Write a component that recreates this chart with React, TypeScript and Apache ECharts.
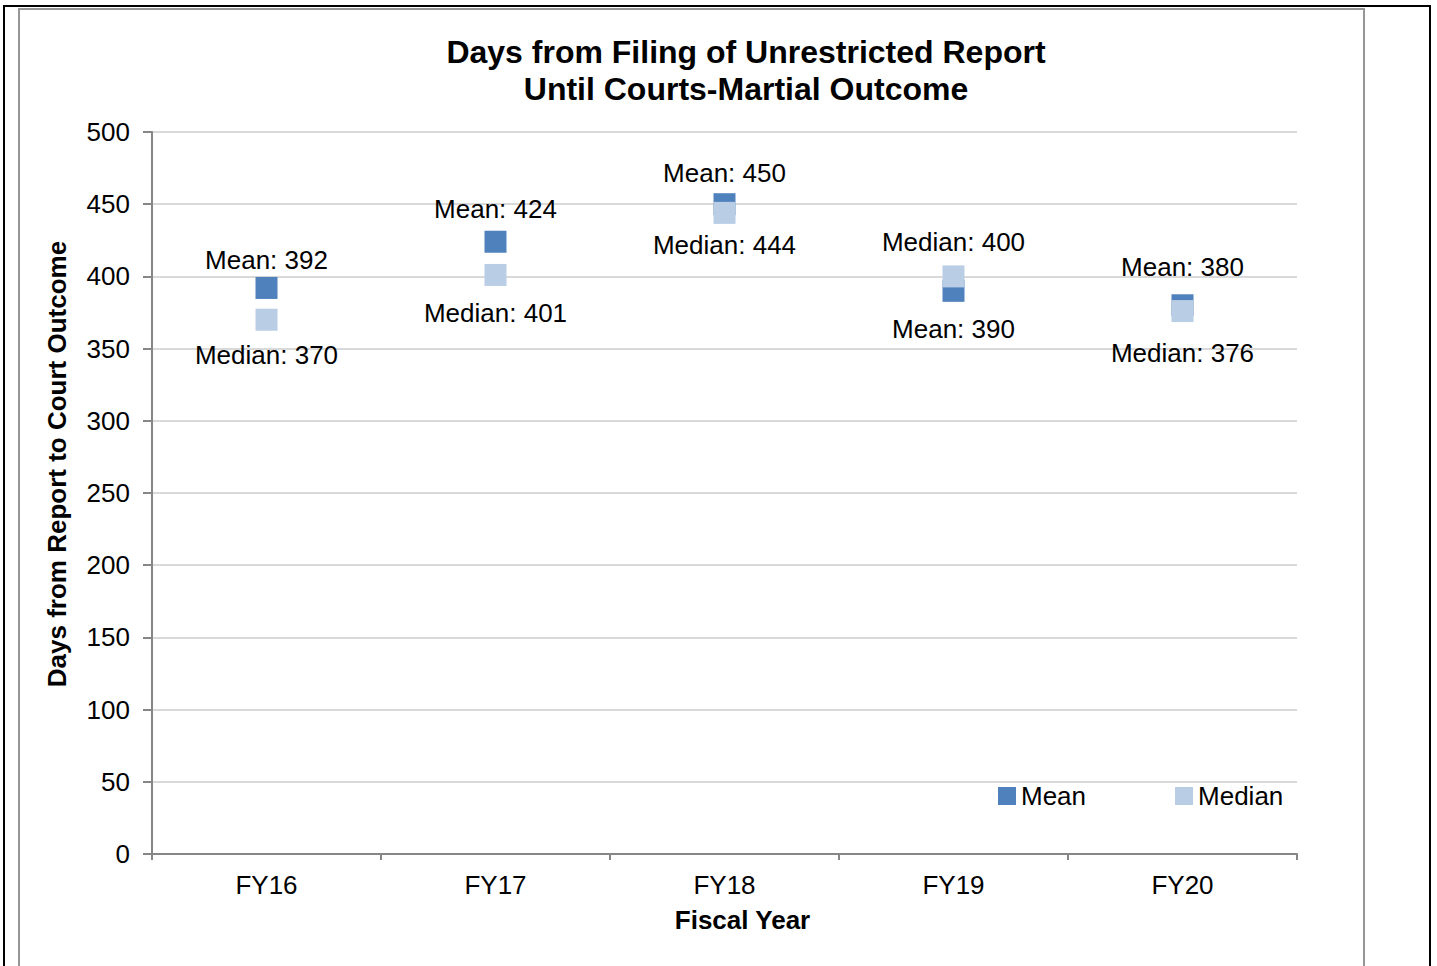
import React, { useEffect, useRef } from "react";
import * as echarts from "echarts";

const categories = ["FY16", "FY17", "FY18", "FY19", "FY20"];
const meanValues = [392, 424, 450, 390, 380];
const medianValues = [370, 401, 444, 400, 376];
const titleLines = ["Days from Filing of Unrestricted Report", "Until Courts-Martial Outcome"];
const yAxisTitle = "Days from Report to Court Outcome";
const xAxisTitle = "Fiscal Year";

// label layout (style, not data)
const meanLabelLayout = [
  { position: "top", distance: 4 },
  { position: "top", distance: 9 },
  { position: "top", distance: 7 },
  { position: "bottom", distance: 14 },
  { position: "top", distance: 14 },
];
const medianLabelLayout = [
  { position: "bottom", distance: 11 },
  { position: "bottom", distance: 14 },
  { position: "bottom", distance: 8 },
  { position: "top", distance: 10 },
  { position: "bottom", distance: 18 },
];

const FONT = "'Liberation Sans', Arial, sans-serif";
const MEAN_COLOR = "#4F81BD";
const MEDIAN_COLOR = "#B9CDE5";

export default function App() {
  const ref = useRef<HTMLDivElement>(null);
  useEffect(() => {
    if (!ref.current) return;
    const chart = echarts.init(ref.current, null, { renderer: "svg" });
    const mkData = (vals: number[], layout: { position: string; distance: number }[], prefix: string) =>
      vals.map((v, i) => ({
        value: v,
        label: {
          show: true,
          position: layout[i].position,
          distance: layout[i].distance,
          formatter: `${prefix}: ${v}`,
          fontSize: 26,
          fontFamily: FONT,
          color: "#000",
        },
      }));
    chart.setOption({
      animation: false,
      backgroundColor: "#fff",
      textStyle: { fontFamily: FONT },
      graphic: [
        {
          type: "rect",
          shape: { x: 4, y: 6, width: 1426, height: 1000 },
          style: { fill: "none", stroke: "#000", lineWidth: 2 },
          silent: true,
          z: 100,
        },
        {
          type: "rect",
          shape: { x: 19, y: 9, width: 1345, height: 1000 },
          style: { fill: "none", stroke: "#969696", lineWidth: 2 },
          silent: true,
          z: 100,
        },
      ],
      title: {
        text: titleLines.join("\n"),
        left: 741,
        textAlign: "center",
        top: 28,
        textStyle: {
          fontFamily: FONT,
          fontSize: 32,
          fontWeight: "bold",
          color: "#000",
          lineHeight: 37,
        },
      },
      legend: {
        left: 993,
        top: 778,
        itemWidth: 18,
        itemHeight: 18,
        itemGap: 89,
        itemTextGap: 4,
        icon: "rect",
        textStyle: { fontFamily: FONT, fontSize: 26, color: "#000" },
        data: ["Mean", "Median"],
      },
      grid: { left: 152, right: 140, top: 132, bottom: 112, containLabel: false },
      xAxis: {
        type: "category",
        data: categories,
        boundaryGap: true,
        name: xAxisTitle,
        nameLocation: "middle",
        nameGap: 53,
        nameTextStyle: {
          fontFamily: FONT,
          fontSize: 26,
          fontWeight: "bold",
          color: "#000",
          padding: [0, 0, 0, 36],
        },
        axisLine: { lineStyle: { color: "#868686", width: 2 } },
        axisTick: { show: true, length: 6, lineStyle: { color: "#868686", width: 2 } },
        axisLabel: { fontFamily: FONT, fontSize: 26, color: "#000", margin: 18 },
        splitLine: { show: false },
      },
      yAxis: {
        type: "value",
        min: 0,
        max: 500,
        interval: 50,
        name: yAxisTitle,
        nameLocation: "middle",
        nameGap: 82,
        nameTextStyle: {
          fontFamily: FONT,
          fontSize: 26,
          fontWeight: "bold",
          color: "#000",
          padding: [0, 0, 0, 58],
        },
        axisLine: { show: true, lineStyle: { color: "#868686", width: 2 } },
        axisTick: { show: true, length: 9, lineStyle: { color: "#868686", width: 2 } },
        axisLabel: { fontFamily: FONT, fontSize: 26, color: "#000", margin: 22 },
        splitLine: { show: true, lineStyle: { color: "#D9D9D9", width: 2 } },
      },
      series: [
        {
          name: "Mean",
          type: "scatter",
          symbol: "rect",
          symbolSize: 22,
          itemStyle: { color: MEAN_COLOR, opacity: 1 },
          data: mkData(meanValues, meanLabelLayout, "Mean"),
          z: 3,
        },
        {
          name: "Median",
          type: "scatter",
          symbol: "rect",
          symbolSize: 22,
          itemStyle: { color: MEDIAN_COLOR, opacity: 1 },
          data: mkData(medianValues, medianLabelLayout, "Median"),
          z: 4,
        },
      ],
    });
    return () => chart.dispose();
  }, []);
  return (
    <div
      ref={ref}
      style={{ position: "fixed", left: 0, top: 0, width: 1437, height: 966, background: "#fff" }}
    />
  );
}
